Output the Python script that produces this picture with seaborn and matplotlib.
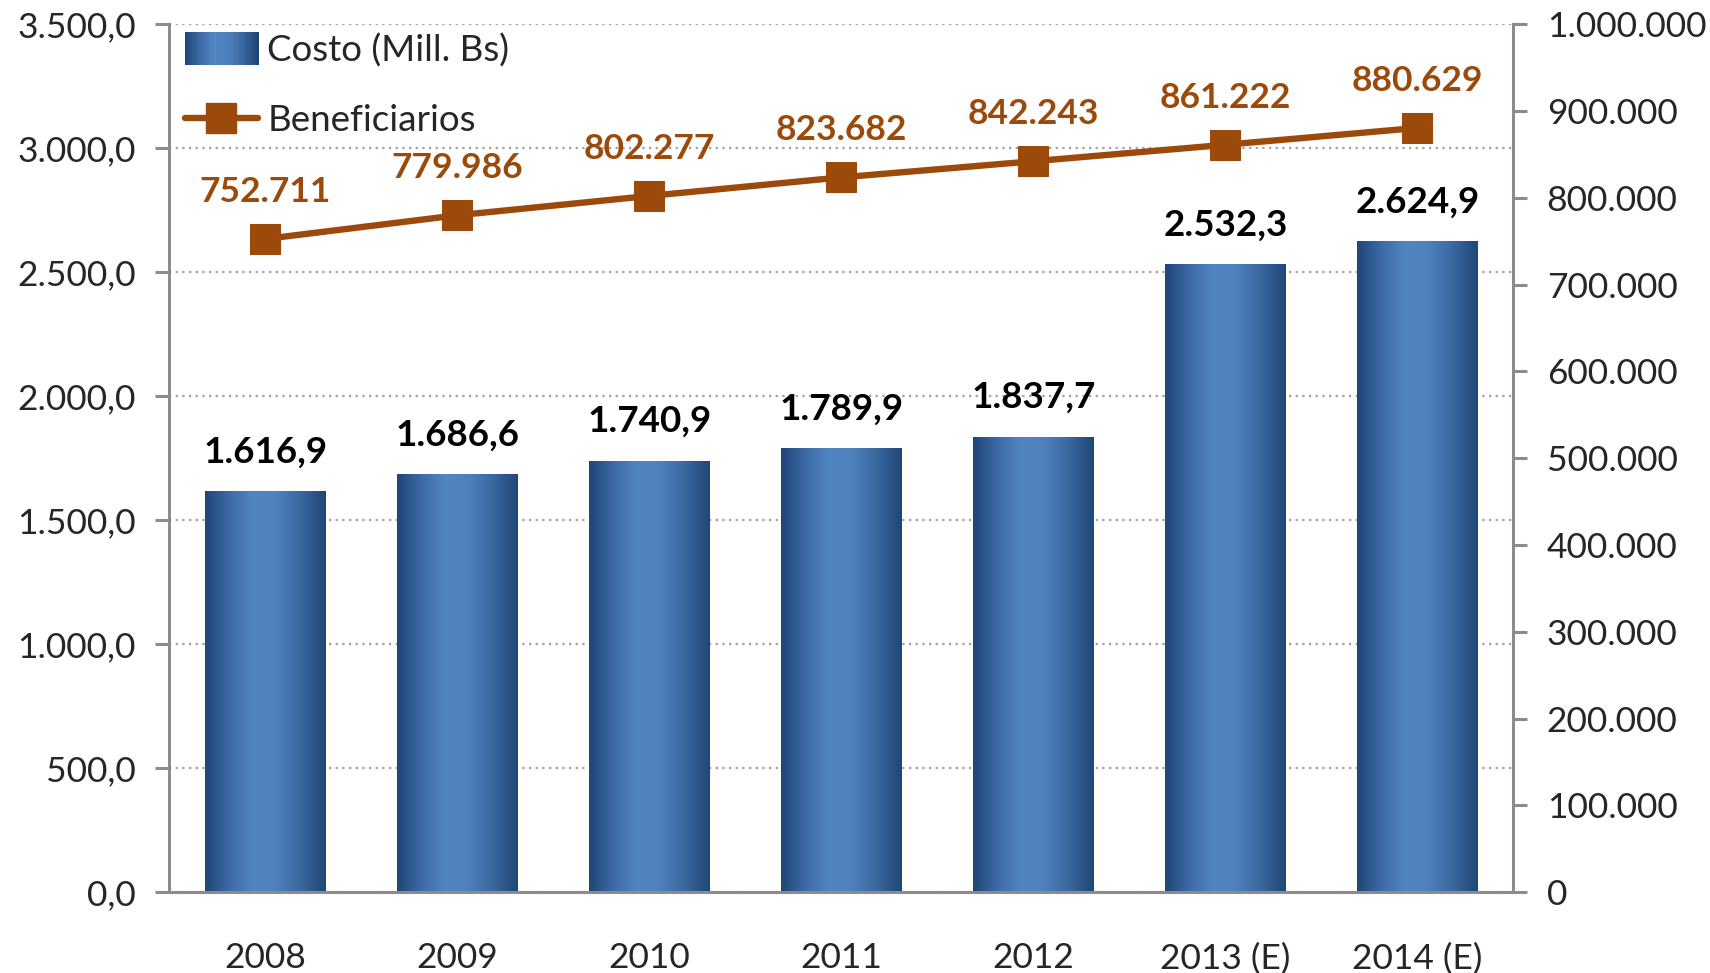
import numpy as np
import pandas as pd
import matplotlib
matplotlib.use("Agg")
import matplotlib.pyplot as plt
import seaborn as sns
from matplotlib.colors import LinearSegmentedColormap
from matplotlib.patches import Rectangle
from matplotlib.lines import Line2D
from matplotlib.legend_handler import HandlerBase

years = ["2008", "2009", "2010", "2011", "2012", "2013 (E)", "2014 (E)"]
costo = [1616.9, 1686.6, 1740.9, 1789.9, 1837.7, 2532.3, 2624.9]
beneficiarios = [752711, 779986, 802277, 823682, 842243, 861222, 880629]

BROWN = "#9C4A0B"
GREY = "#8C8C8C"
grad = LinearSegmentedColormap.from_list(
    "bar", ["#1F4677", "#3D6AA6", "#5286C2", "#4E80BC", "#3A679F", "#1F4677"])


def eu(v, dec):
    s = f"{v:,.{dec}f}"
    return s.replace(",", "X").replace(".", ",").replace("X", ".")


sns.set_style("white")
plt.rcParams["font.family"] = ["Lato", "DejaVu Sans"]

df = pd.DataFrame({"year": years, "costo": costo})

fig, ax = plt.subplots(figsize=(17.1, 9.73), dpi=100)
fig.subplots_adjust(left=0.099, right=0.885, bottom=0.083, top=0.975)

sns.barplot(data=df, x="year", y="costo", ax=ax, width=0.63,
            color="#4F81BD", edgecolor="none", zorder=2)
ax.set_xlim(-0.5, 6.5)
ax.set_ylim(0, 3500)

# gradient fill
g = np.linspace(0, 1, 256).reshape(1, -1)
for p in list(ax.patches):
    x0, w, h = p.get_x(), p.get_width(), p.get_height()
    im = ax.imshow(g, cmap=grad, extent=[x0, x0 + w, 0, h], aspect="auto",
                   zorder=2.5, interpolation="bicubic")
    im.set_clip_path(p)
ax.set_xlim(-0.5, 6.5)
ax.set_ylim(0, 3500)

for i, v in enumerate(costo):
    ax.annotate(eu(v, 1), (i, v), xytext=(0, 28), textcoords="offset points",
                ha="center", va="center", fontsize=26.5, fontweight="bold",
                color="black", zorder=5)

ax.set_yticks(np.arange(0, 3501, 500))
ax.set_yticklabels([eu(v, 1) for v in np.arange(0, 3501, 500)])
ax.set_xticks(np.arange(-0.5, 7, 1))
ax.set_xticklabels([""] * 8)
ax.set_xticks(np.arange(7), minor=True)
ax.set_xticklabels(years, minor=True)
ax.tick_params(axis="x", which="major", length=10, width=2.2, color=GREY, direction="out")
ax.tick_params(axis="x", which="minor", length=0, pad=36, labelsize=25.5)
ax.tick_params(axis="y", length=10, width=2.2, color=GREY, direction="out",
               labelsize=25.5, pad=14)
ax.set_xlabel("")
ax.set_ylabel("")
ax.yaxis.grid(True, linestyle=(0, (1, 2)), color="#A0A0A0", linewidth=1.6)
ax.set_axisbelow(True)
for s in ["top", "right"]:
    ax.spines[s].set_visible(False)
for s in ["left", "bottom"]:
    ax.spines[s].set_color(GREY)
    ax.spines[s].set_linewidth(2.2)

ax2 = ax.twinx()
sns.lineplot(x=np.arange(7), y=beneficiarios, ax=ax2, color=BROWN, linewidth=4.6,
             marker="s", markersize=22, markeredgecolor=BROWN, zorder=4)
ax2.set_ylim(0, 1000000)
ax2.set_yticks(np.arange(0, 1000001, 100000))
ax2.set_yticklabels([eu(v, 0) for v in np.arange(0, 1000001, 100000)])
ax2.tick_params(axis="y", length=10, width=2.2, color=GREY, direction="out",
                labelsize=25.5, pad=14)
for s in ["top", "left", "bottom"]:
    ax2.spines[s].set_visible(False)
ax2.spines["right"].set_color(GREY)
ax2.spines["right"].set_linewidth(2.2)
for i, v in enumerate(beneficiarios):
    ax2.annotate(eu(v, 0), (i, v), xytext=(0, 34), textcoords="offset points",
                 ha="center", va="center", fontsize=25.5, fontweight="bold",
                 color=BROWN, zorder=5)


class GradHandler(HandlerBase):
    def create_artists(self, legend, orig, xd, yd, w, h, fs, trans):
        n = 40
        arts = []
        for k in range(n):
            r = Rectangle((xd + w * k / n, yd - h * 0.15), w / n + 0.5, h * 1.3,
                          facecolor=grad(k / (n - 1)), edgecolor="none",
                          transform=trans)
            arts.append(r)
        return arts


bar_handle = Rectangle((0, 0), 1, 1)
line_handle = Line2D([], [], color=BROWN, linewidth=4.6, marker="s",
                     markersize=22, solid_capstyle="round")
ax2.legend([bar_handle, line_handle], ["Costo (Mill. Bs)", "Beneficiarios"],
           handler_map={Rectangle: GradHandler()}, loc="upper left",
           bbox_to_anchor=(-0.005, 1.015), borderaxespad=0.2, frameon=False,
           fontsize=26.5, handlelength=2.0, handletextpad=0.25, labelspacing=1.0)

fig.savefig("out.png", dpi=100)
